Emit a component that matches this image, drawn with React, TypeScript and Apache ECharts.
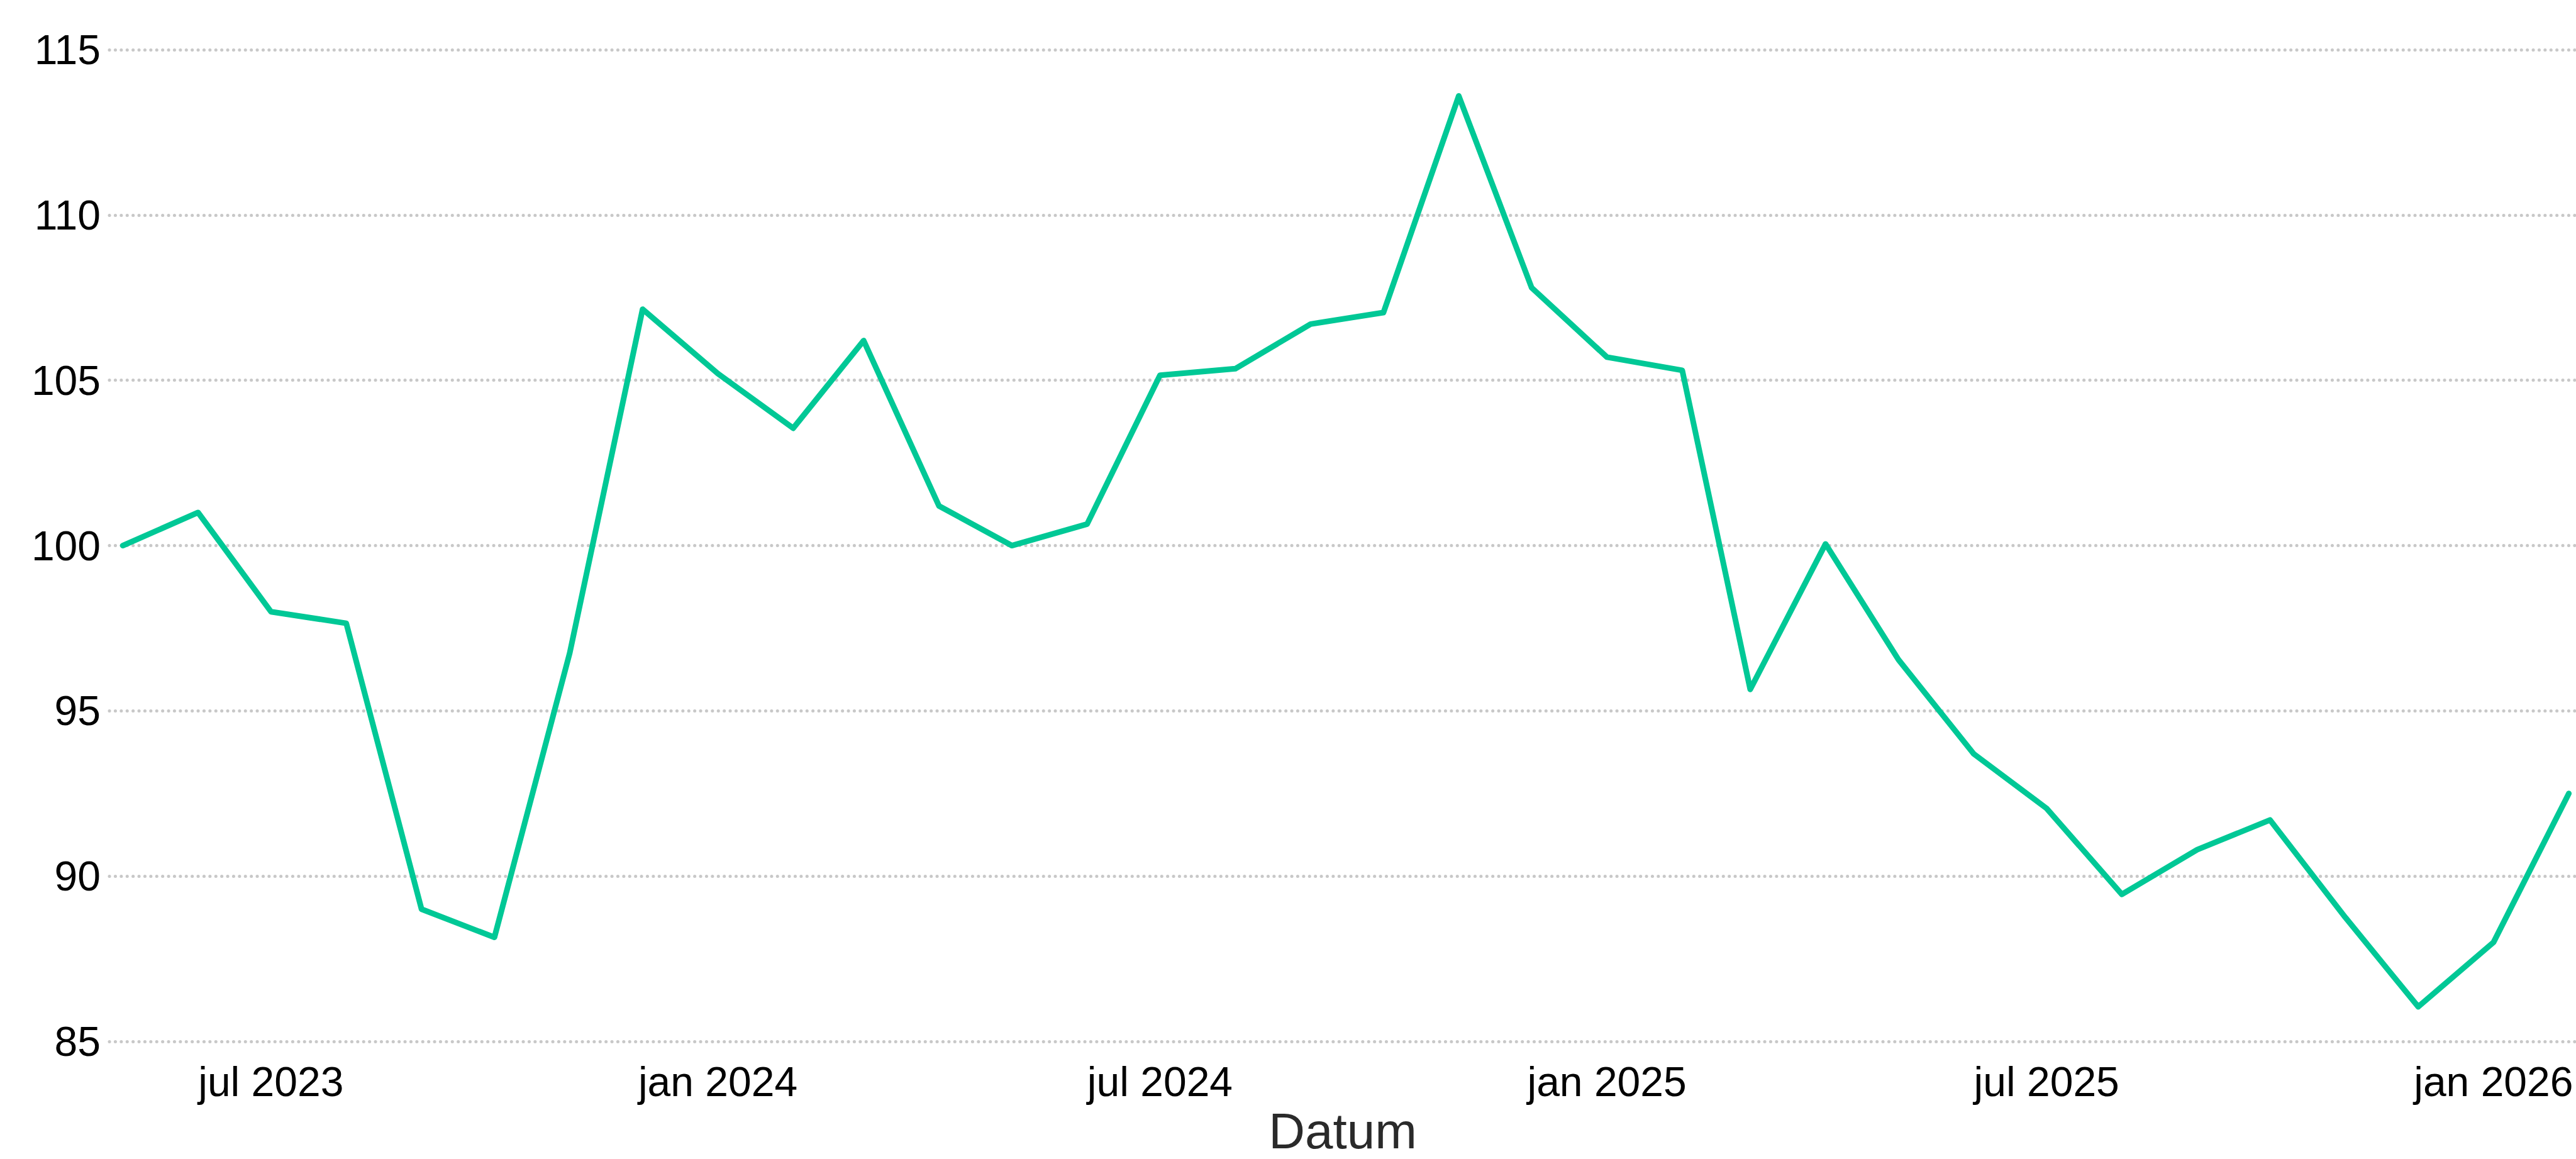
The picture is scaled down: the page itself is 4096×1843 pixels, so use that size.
import React, { useEffect, useRef } from "react";
import * as echarts from "echarts";

const months = [
  "2023-05", "2023-06", "2023-07", "2023-08", "2023-09", "2023-10", "2023-11", "2023-12",
  "2024-01", "2024-02", "2024-03", "2024-04", "2024-05", "2024-06", "2024-07", "2024-08",
  "2024-09", "2024-10", "2024-11", "2024-12", "2025-01", "2025-02", "2025-03", "2025-04",
  "2025-05", "2025-06", "2025-07", "2025-08", "2025-09", "2025-10", "2025-11", "2025-12",
  "2026-01", "2026-02",
];
const values = [
  100.0, 101.0, 98.0, 97.65, 89.0, 88.15, 96.75, 107.15,
  105.2, 103.55, 106.2, 101.2, 100.0, 100.65, 105.15, 105.35,
  106.7, 107.05, 113.6, 107.8, 105.7, 105.3, 95.65, 100.05,
  96.55, 93.7, 92.05, 89.45, 90.8, 91.7, 88.75, 86.05,
  88.0, 92.5,
];
const xTickMonths = ["2023-07", "2024-01", "2024-07", "2025-01", "2025-07", "2026-01"];
const xTickLabels = ["jul 2023", "jan 2024", "jul 2024", "jan 2025", "jul 2025", "jan 2026"];
const yMin = 85;
const yMax = 115;
const yStep = 5;
const xAxisTitle = "Datum";

const DAY = 24 * 3600 * 1000;
const toTime = (s: string) => {
  const [y, m] = s.split("-").map(Number);
  return Date.UTC(y, m - 1, 1);
};

const FONT = "'Liberation Sans', Arial, Helvetica, sans-serif";

export default function App() {
  const ref = useRef<HTMLDivElement>(null);
  useEffect(() => {
    if (!ref.current) return;
    const chart = echarts.init(ref.current, null, { renderer: "svg" });
    const tickTimes = xTickMonths.map(toTime);
    chart.setOption({
      animation: false,
      backgroundColor: "#ffffff",
      grid: { left: 174, right: 0, top: 79, bottom: 162, containLabel: false },
      xAxis: {
        type: "value",
        scale: true,
        min: toTime(months[0]) - 5.5 * DAY,
        max: toTime(months[months.length - 1]) + 2.95 * DAY,
        axisLine: { show: false },
        axisTick: { show: false },
        splitLine: { show: false },
        axisLabel: {
          customValues: tickTimes,
          formatter: (v: number) => {
            let best = 0;
            let bd = Infinity;
            tickTimes.forEach((t, i) => {
              const d = Math.abs(t - v);
              if (d < bd) { bd = d; best = i; }
            });
            return xTickLabels[best];
          },
          fontSize: 66,
          fontFamily: FONT,
          color: "#000000",
          margin: 31,
          hideOverlap: false,
        },
        name: xAxisTitle,
        nameLocation: "middle",
        nameGap: 100,
        nameTextStyle: { fontSize: 80, fontFamily: FONT, color: "#2a2a2a" },
      },
      yAxis: {
        type: "value",
        min: yMin,
        max: yMax,
        interval: yStep,
        axisLine: { show: false },
        axisTick: { show: false },
        axisLabel: { fontSize: 66, fontFamily: FONT, color: "#000000", margin: 14 },
        splitLine: {
          show: true,
          lineStyle: { color: "#c8c8c8", width: 5, type: [0.1, 9.3], cap: "round" },
        },
      },
      series: [
        {
          type: "line",
          data: months.map((m, i) => [toTime(m), values[i]]),
          showSymbol: false,
          symbol: "none",
          lineStyle: { color: "#00c896", width: 9, cap: "round", join: "round" },
        },
      ],
    });
    return () => chart.dispose();
  }, []);
  return (
    <div
      ref={ref}
      style={{ position: "fixed", left: 0, top: 0, width: 4096, height: 1843, background: "#ffffff" }}
    />
  );
}
